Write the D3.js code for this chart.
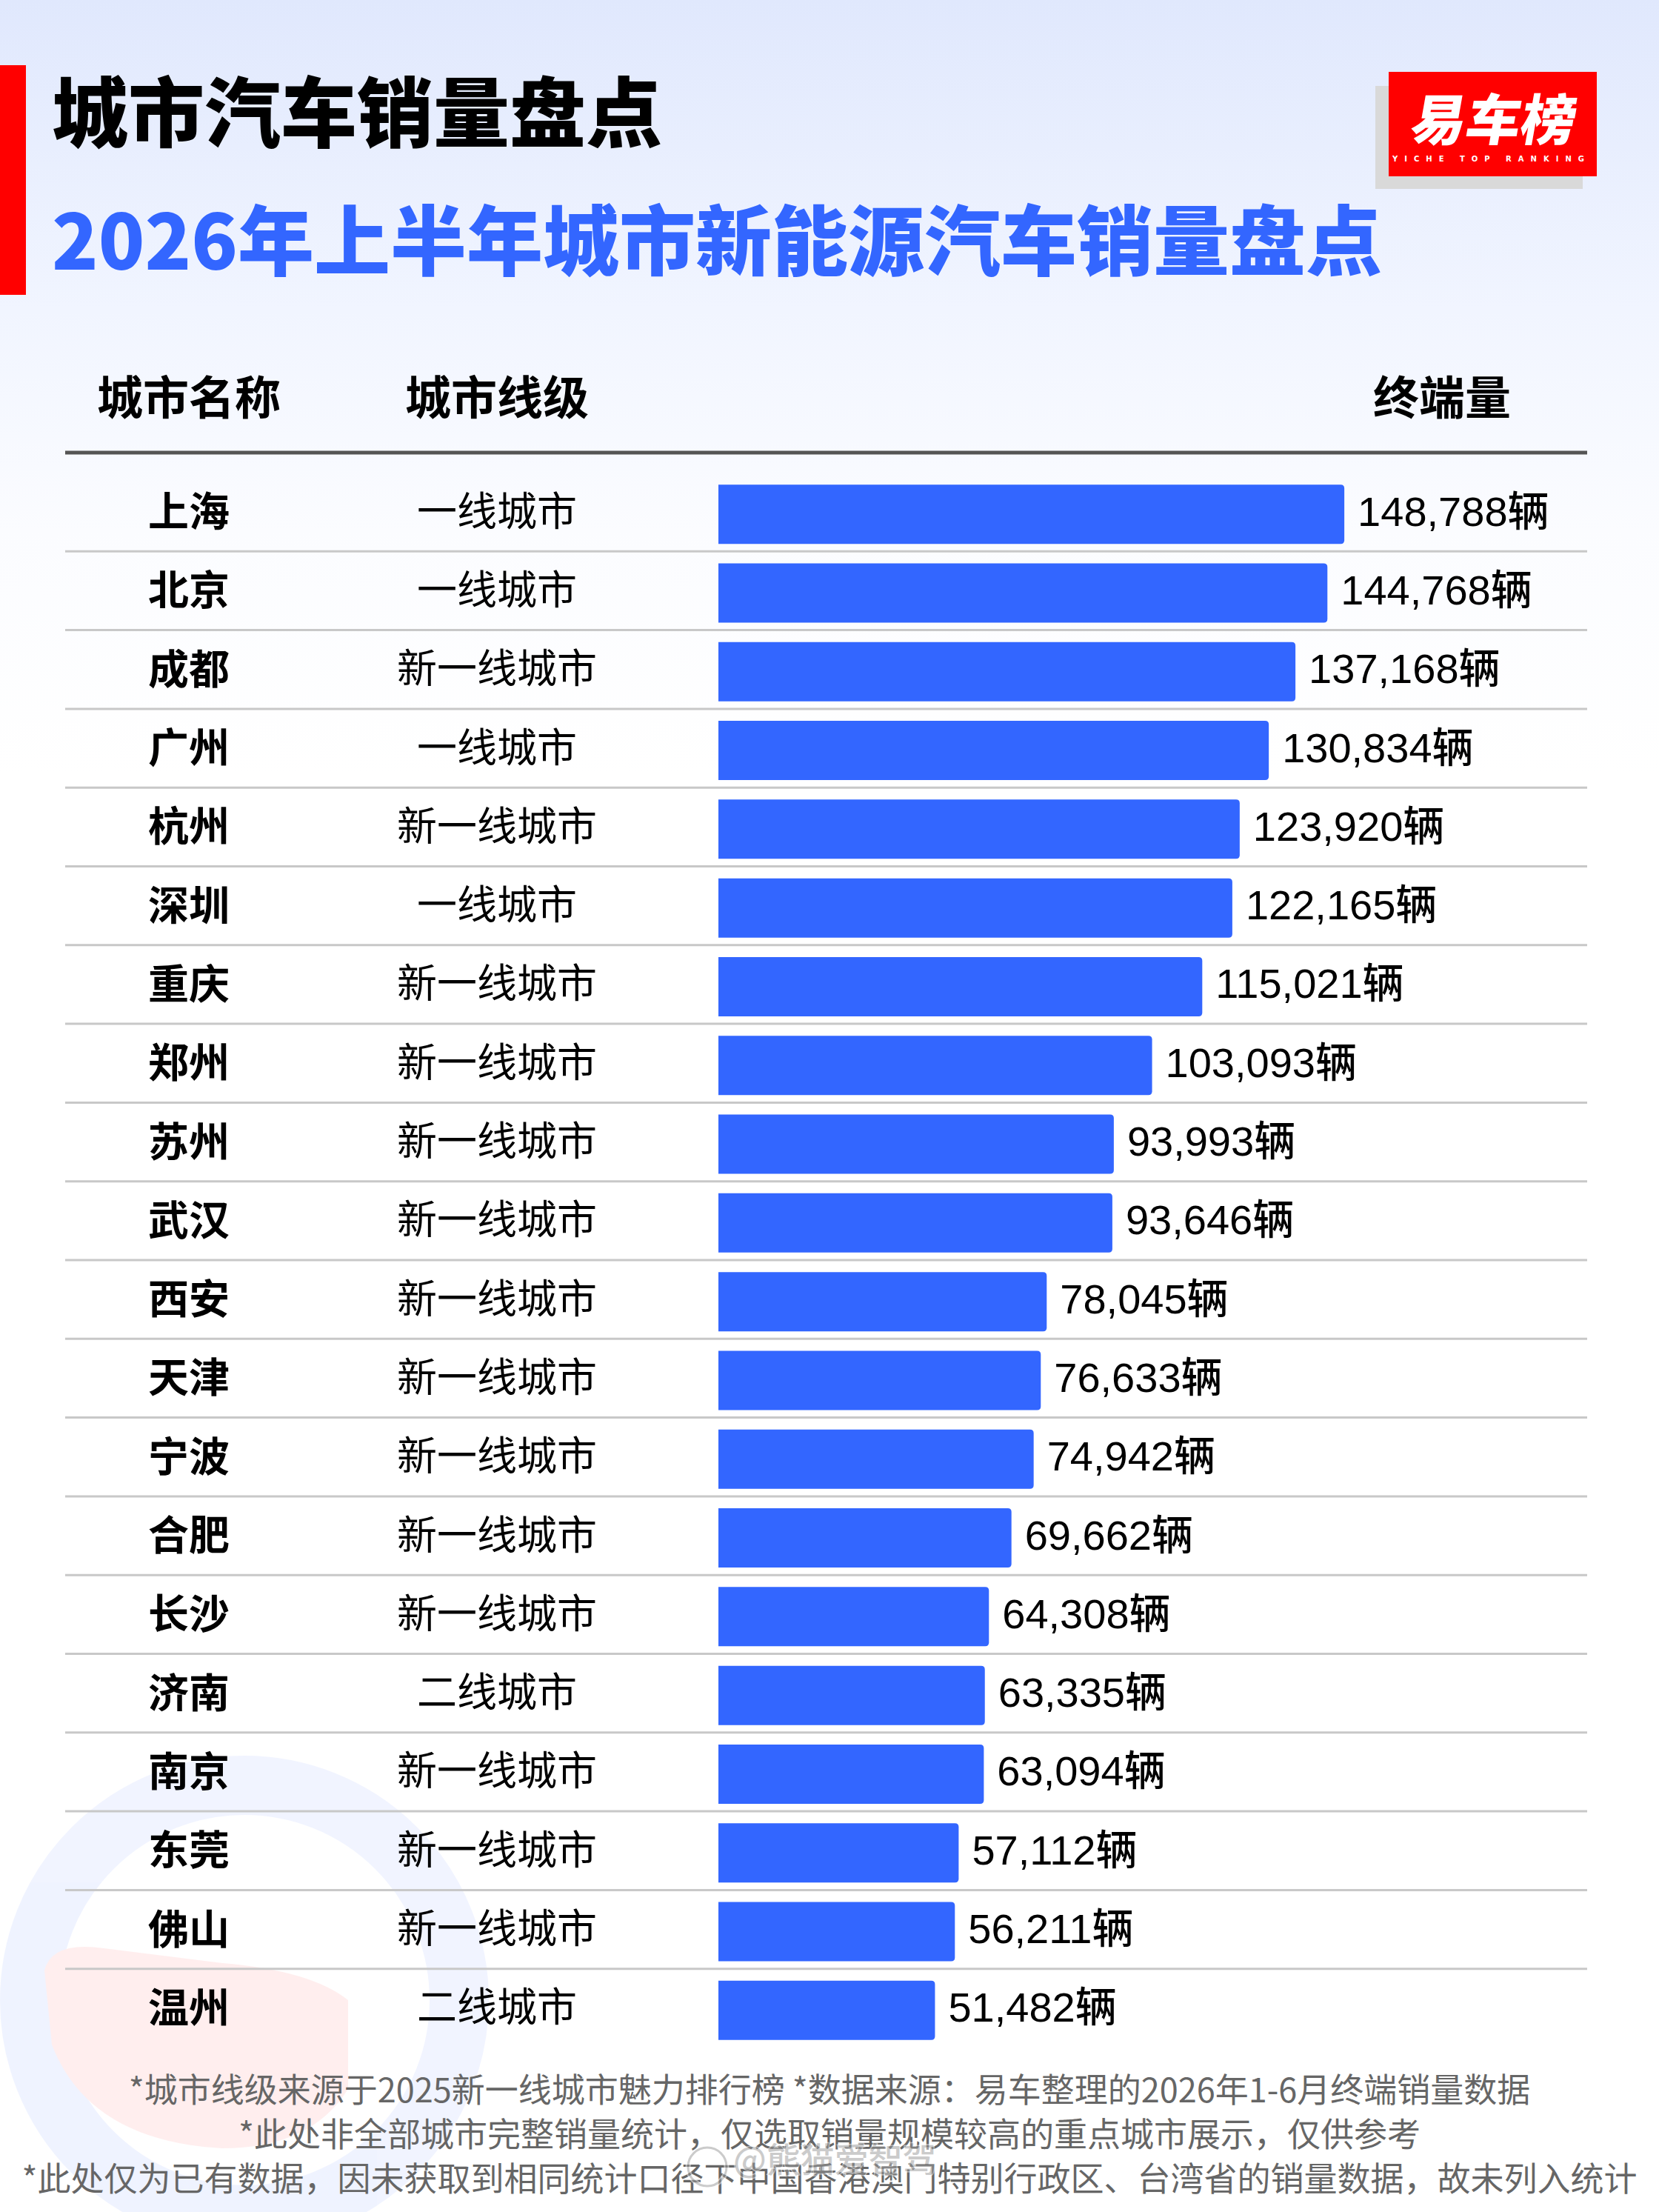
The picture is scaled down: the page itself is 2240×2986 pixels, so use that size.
<!DOCTYPE html>
<html lang="zh-CN">
<head>
  <meta charset="UTF-8">
  <title>2026年上半年城市新能源汽车销量盘点</title>
  <script src="https://d3js.org/d3.v7.min.js"></script>
  <style>
    html, body { margin: 0; padding: 0; background: #fff; }
    svg { display: block; }
    .cjk { font-family: "Noto Sans CJK SC", "Noto Sans", sans-serif; }
  </style>
</head>
<body>
  <div id="chart"></div>
  <script>
    const width = 2240;
    const height = 2986;

    // data
    const cities = ["上海", "北京", "成都", "广州", "杭州", "深圳", "重庆", "郑州", "苏州", "武汉",
      "西安", "天津", "宁波", "合肥", "长沙", "济南", "南京", "东莞", "佛山", "温州"];
    const tiers = ["一线城市", "一线城市", "新一线城市", "一线城市", "新一线城市", "一线城市", "新一线城市",
      "新一线城市", "新一线城市", "新一线城市", "新一线城市", "新一线城市", "新一线城市", "新一线城市",
      "新一线城市", "二线城市", "新一线城市", "新一线城市", "新一线城市", "二线城市"];
    const sales = [148788, 144768, 137168, 130834, 123920, 122165, 115021, 103093, 93993, 93646,
      78045, 76633, 74942, 69662, 64308, 63335, 63094, 57112, 56211, 51482];
    const headers = ["城市名称", "城市线级", "终端量"];
    const footnotes = [
      "*城市线级来源于2025新一线城市魅力排行榜 *数据来源：易车整理的2026年1-6月终端销量数据",
      "*此处非全部城市完整销量统计，仅选取销量规模较高的重点城市展示，仅供参考",
      "*此处仅为已有数据，因未获取到相同统计口径下中国香港澳门特别行政区、台湾省的销量数据，故未列入统计"
    ];

    const rows = cities.map((c, i) => ({ city: c, tier: tiers[i], value: sales[i] }));

    const svg = d3.select("#chart")
      .append("svg")
      .attr("width", width)
      .attr("height", height)
      .attr("class", "cjk");

    // background gradient
    const defs = svg.append("defs");
    const bg = defs.append("linearGradient")
      .attr("id", "bg")
      .attr("x1", 0).attr("y1", 0).attr("x2", 0).attr("y2", 1);
    bg.append("stop").attr("offset", "0").attr("stop-color", "#e0e8fd");
    bg.append("stop").attr("offset", "0.14").attr("stop-color", "#f1f5ff");
    bg.append("stop").attr("offset", "0.24").attr("stop-color", "#fbfcff");
    bg.append("stop").attr("offset", "0.35").attr("stop-color", "#ffffff");

    svg.append("rect")
      .attr("width", width)
      .attr("height", height)
      .attr("fill", "url(#bg)");

    // faint logo watermark bottom-left
    const wm = svg.append("g").attr("opacity", 0.07);
    wm.append("circle")
      .attr("cx", 330).attr("cy", 2700).attr("r", 290)
      .attr("fill", "none")
      .attr("stroke", "#3366ff")
      .attr("stroke-width", 80);
    wm.append("path")
      .attr("d", "M60,2660 Q70,2620 140,2630 L300,2650 Q420,2660 470,2700 L470,2820 Q420,2900 300,2900 Q120,2890 70,2760 Z")
      .attr("fill", "#ff2020");

    // title block
    svg.append("rect")
      .attr("x", 0).attr("y", 88)
      .attr("width", 35).attr("height", 310)
      .attr("fill", "#ff0000");

    svg.append("text")
      .attr("x", 70).attr("y", 146)
      .attr("dominant-baseline", "central")
      .attr("font-size", 103)
      .attr("font-weight", 900)
      .attr("fill", "#000")
      .text("城市汽车销量盘点");

    svg.append("text")
      .attr("x", 70).attr("y", 319)
      .attr("dominant-baseline", "central")
      .attr("font-size", 103)
      .attr("font-weight", 900)
      .attr("fill", "#3366ff")
      .text("2026年上半年城市新能源汽车销量盘点");

    // brand badge
    const logo = svg.append("g");
    logo.append("rect")
      .attr("x", 1857).attr("y", 116)
      .attr("width", 280).attr("height", 139)
      .attr("fill", "#d9d9d9");
    logo.append("rect")
      .attr("x", 1875).attr("y", 97)
      .attr("width", 281).attr("height", 141)
      .attr("fill", "#ff0000");
    logo.append("text")
      .attr("x", 2018).attr("y", 156)
      .attr("text-anchor", "middle")
      .attr("dominant-baseline", "central")
      .attr("font-size", 74)
      .attr("font-weight", 900)
      .attr("fill", "#fff")
      .attr("transform", "skewX(-10) translate(28,0)")
      .text("易车榜");
    logo.append("text")
      .attr("x", 2014).attr("y", 214)
      .attr("text-anchor", "middle")
      .attr("dominant-baseline", "central")
      .attr("font-size", 10)
      .attr("font-weight", 700)
      .attr("letter-spacing", 9)
      .attr("fill", "#fff")
      .attr("font-family", "DejaVu Sans")
      .text("YICHE TOP RANKING");

    // column headers
    const colX = [255, 671, 1947];
    svg.selectAll(".header")
      .data(headers)
      .enter()
      .append("text")
      .attr("class", "header")
      .attr("x", (d, i) => colX[i])
      .attr("y", 533)
      .attr("text-anchor", "middle")
      .attr("dominant-baseline", "central")
      .attr("font-size", 62)
      .attr("font-weight", 700)
      .attr("fill", "#000")
      .text(d => d);

    svg.append("line")
      .attr("x1", 88).attr("x2", 2143)
      .attr("y1", 611).attr("y2", 611)
      .attr("stroke", "#555")
      .attr("stroke-width", 5);

    // scales
    const y = d3.scaleBand()
      .domain(cities)
      .range([641, 641 + 106.3 * cities.length]);

    const x = d3.scaleLinear()
      .domain([0, 150000])
      .range([970, 1822]);

    const barH = 80;

    // row separators
    svg.selectAll(".sep")
      .data(rows.slice(0, rows.length - 1))
      .enter()
      .append("line")
      .attr("class", "sep")
      .attr("x1", 88).attr("x2", 2143)
      .attr("y1", d => y(d.city) + y.bandwidth() - 3)
      .attr("y2", d => y(d.city) + y.bandwidth() - 3)
      .attr("stroke", "#c8c8c8")
      .attr("stroke-width", 3);

    // bars, rounded on the right end only
    const r = 5;
    svg.selectAll(".bar")
      .data(rows)
      .enter()
      .append("path")
      .attr("class", "bar")
      .attr("fill", "#3366ff")
      .attr("d", d => {
        const x0 = x(0), x1 = x(d.value);
        const y0 = y(d.city) + (y.bandwidth() - barH) / 2, y1 = y0 + barH;
        return `M${x0},${y0} H${x1 - r} Q${x1},${y0} ${x1},${y0 + r} V${y1 - r} Q${x1},${y1} ${x1 - r},${y1} H${x0} Z`;
      });

    const mid = d => y(d.city) + y.bandwidth() / 2;

    svg.selectAll(".city")
      .data(rows)
      .enter()
      .append("text")
      .attr("class", "city")
      .attr("x", colX[0])
      .attr("y", d => mid(d) - 8)
      .attr("text-anchor", "middle")
      .attr("dominant-baseline", "central")
      .attr("font-size", 55)
      .attr("font-weight", 700)
      .attr("fill", "#000")
      .text(d => d.city);

    svg.selectAll(".tier")
      .data(rows)
      .enter()
      .append("text")
      .attr("class", "tier")
      .attr("x", colX[1])
      .attr("y", d => mid(d) - 8)
      .attr("text-anchor", "middle")
      .attr("dominant-baseline", "central")
      .attr("font-size", 54)
      .attr("font-weight", 400)
      .attr("fill", "#000")
      .text(d => d.tier);

    const fmt = d3.format(",");
    svg.selectAll(".value")
      .data(rows)
      .enter()
      .append("text")
      .attr("class", "value")
      .attr("x", d => x(d.value) + 18)
      .attr("y", d => mid(d) - 4)
      .attr("dominant-baseline", "central")
      .attr("font-size", 56)
      .attr("font-weight", 500)
      .attr("font-family", "'Liberation Sans', 'Noto Sans CJK SC', sans-serif")
      .attr("fill", "#000")
      .text(d => fmt(d.value) + "辆");

    // footnotes
    svg.selectAll(".note")
      .data(footnotes)
      .enter()
      .append("text")
      .attr("class", "note")
      .attr("x", width / 2)
      .attr("y", (d, i) => 2818 + i * 60)
      .attr("text-anchor", "middle")
      .attr("dominant-baseline", "central")
      .attr("font-size", 45)
      .attr("font-weight", 400)
      .attr("fill", "#666")
      .text(d => d);

    // weibo watermark over the last note
    const wb = svg.append("g").attr("opacity", 0.5);
    wb.append("circle")
      .attr("cx", 955).attr("cy", 2925).attr("r", 26)
      .attr("fill", "none")
      .attr("stroke", "#fff")
      .attr("stroke-width", 7);
    wb.append("circle")
      .attr("cx", 955).attr("cy", 2925).attr("r", 26)
      .attr("fill", "none")
      .attr("stroke", "#999")
      .attr("stroke-width", 3);
    wb.append("text")
      .attr("x", 990).attr("y", 2912)
      .attr("dominant-baseline", "central")
      .attr("font-size", 46)
      .attr("font-weight", 500)
      .attr("fill", "#999")
      .attr("stroke", "#fff")
      .attr("stroke-width", 3)
      .attr("paint-order", "stroke")
      .text("@熊猫爱智驾");
  </script>
</body>
</html>
